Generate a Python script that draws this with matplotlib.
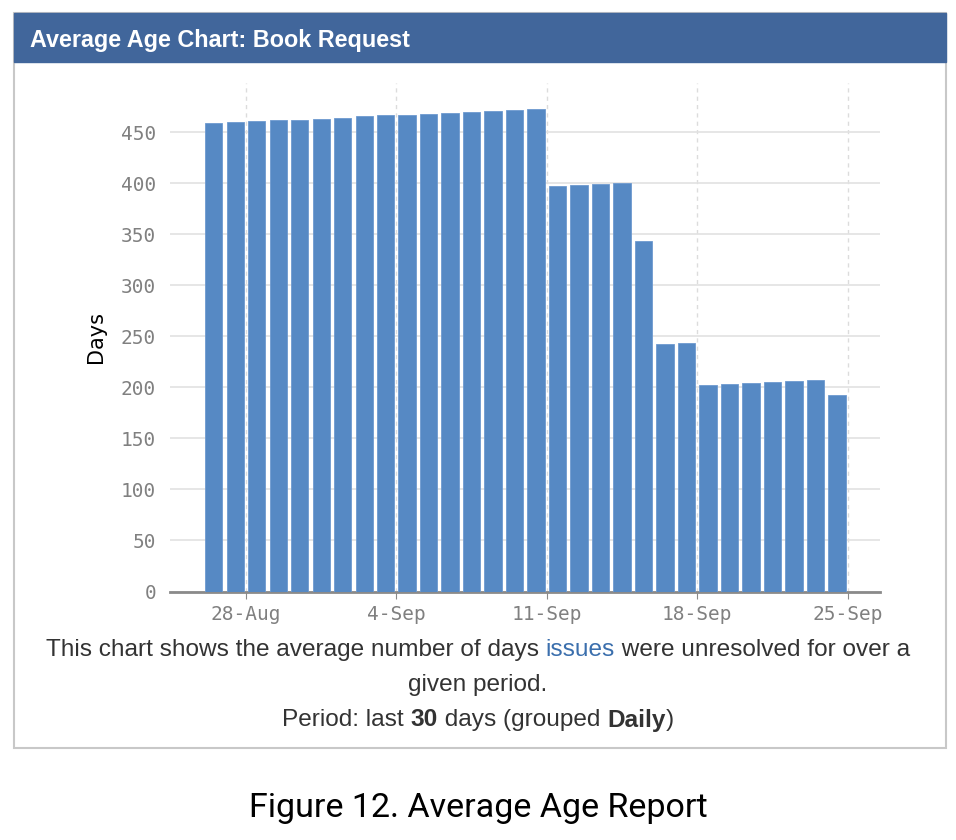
#!/usr/bin/env python
# average age chart for book requests, redrawn from a report screenshot
import matplotlib
matplotlib.use("Agg")
import matplotlib.pyplot as plt
from matplotlib.patches import Rectangle
import numpy as np

# one bar per day, 26-Aug .. 24-Sep (last 30 days)
day_labels = ["26-Aug", "27-Aug", "28-Aug", "29-Aug", "30-Aug", "31-Aug",
              "1-Sep", "2-Sep", "3-Sep", "4-Sep", "5-Sep", "6-Sep", "7-Sep",
              "8-Sep", "9-Sep", "10-Sep", "11-Sep", "12-Sep", "13-Sep",
              "14-Sep", "15-Sep", "16-Sep", "17-Sep", "18-Sep", "19-Sep",
              "20-Sep", "21-Sep", "22-Sep", "23-Sep", "24-Sep"]
avg_days = [458.6, 459.5, 460.5, 461.4, 462.0, 463.0, 463.9, 465.3, 466.2,
            467.1, 467.7, 468.7, 470.0, 470.6, 471.5, 472.5,
            397.1, 398.0, 398.6, 400.0, 343.6, 241.9, 243.0,
            202.4, 203.3, 204.3, 204.9, 206.3, 207.3, 192.5]

# weekly ticks sit on the day boundaries (day index from 26-Aug)
tick_days = [2, 9, 16, 23, 30]
tick_labels = ["28-Aug", "4-Sep", "11-Sep", "18-Sep", "25-Sep"]
y_ticks = [0, 50, 100, 150, 200, 250, 300, 350, 400, 450]

W, H = 956, 840
fig = plt.figure(figsize=(W / 100, H / 100), dpi=100)
fig.patch.set_facecolor("white")


def fx(px):
    return px / W


def fy(py):
    return 1 - py / H


# panel frame and blue header
fig.add_artist(Rectangle((fx(14), fy(748)), fx(946) - fx(14), fy(13) - fy(748),
                         transform=fig.transFigure, facecolor="white",
                         edgecolor="#c8c8c8", linewidth=1.5, zorder=0))
fig.add_artist(Rectangle((fx(14), fy(62)), fx(946) - fx(14), fy(13) - fy(62),
                         transform=fig.transFigure, facecolor="#41669b",
                         edgecolor="#41669b", linewidth=1, zorder=1))
fig.text(fx(30), fy(40), "Average Age Chart: Book Request", color="white",
         fontsize=16.8, fontweight="bold", family="Liberation Sans",
         va="center", ha="left")

# the chart itself
ax = fig.add_axes([fx(170), fy(591.5), fx(880) - fx(170), fy(83) - fy(591.5)])
x = np.arange(len(avg_days)) + 0.5
ax.bar(x, avg_days, width=0.8, color="#5689c4", edgecolor="#6e9ad0",
       linewidth=0.6, zorder=3)

ax.set_xlim(-1.53, 31.5)
ax.set_ylim(0, 498)
ax.set_xticks(tick_days)
ax.set_xticklabels(tick_labels)
ax.set_yticks(y_ticks)
for lab in ax.get_xticklabels() + ax.get_yticklabels():
    lab.set_family("DejaVu Sans Mono")
    lab.set_fontsize(14)
    lab.set_color("#808080")

ax.grid(axis="y", color="#e2e2e2", linewidth=1.2, linestyle="-", zorder=0)
ax.grid(axis="x", color="#dcdcdc", linewidth=1.0, linestyle=(0, (3, 3)), zorder=0)
for side in ["top", "right", "left"]:
    ax.spines[side].set_visible(False)
ax.spines["bottom"].set_color("#8a8a8a")
ax.spines["bottom"].set_linewidth(2)
ax.tick_params(axis="y", length=0, pad=10)
ax.tick_params(axis="x", length=5, color="#8a8a8a", pad=5)
ax.set_ylabel("Days", fontsize=15, color="black", family="DejaVu Sans",
              va="center")
ax.yaxis.set_label_coords((96 - 170) / (880 - 170), 0.5)

# caption lines under the chart, pieces drawn left to right then centred
renderer = fig.canvas.get_renderer()


def caption_line(pieces, ypix, size):
    texts = []
    for s, color, weight in pieces:
        t = fig.text(0, fy(ypix), s, fontsize=size, color=color,
                     fontweight=weight, family="Liberation Sans",
                     va="center", ha="left")
        texts.append(t)
    widths = [t.get_window_extent(renderer).width for t in texts]
    total = sum(widths)
    left = W / 2 - total / 2
    for t, w in zip(texts, widths):
        t.set_x(fx(left))
        left += w


caption_line([("This chart shows the average number of days ", "#333333", "normal"),
              ("issues", "#3b6fad", "normal"),
              (" were unresolved for over a", "#333333", "normal")], 650, 17.6)
caption_line([("given period.", "#333333", "normal")], 685, 17.6)
caption_line([("Period: last ", "#333333", "normal"),
              ("30", "#333333", "bold"),
              (" days (grouped ", "#333333", "normal"),
              ("Daily", "#333333", "bold"),
              (")", "#333333", "normal")], 720, 17.6)

fig.text(0.5, fy(808), "Figure 12. Average Age Report", fontsize=24.5,
         family="Roboto", color="black", ha="center", va="center")

fig.savefig("out.png", dpi=100)
